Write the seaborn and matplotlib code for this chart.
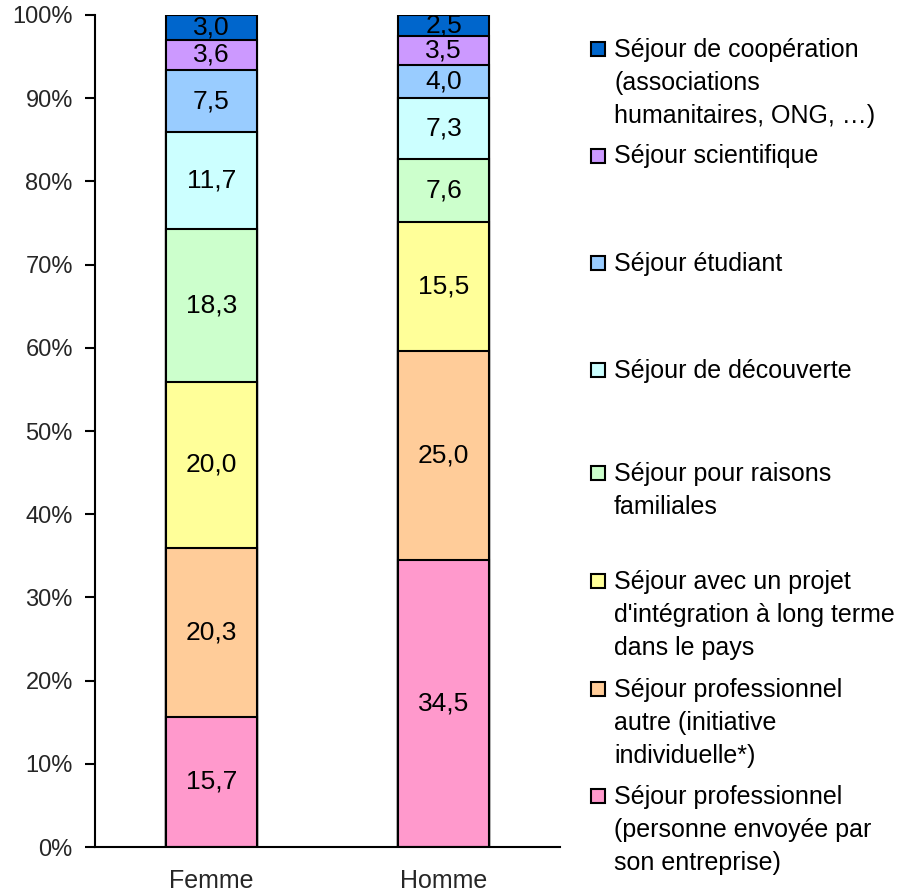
import matplotlib
matplotlib.use("Agg")
import matplotlib.pyplot as plt
from matplotlib.patches import Rectangle
import seaborn as sns
import pandas as pd
import numpy as np

# ---- data ----
groups = ["Femme", "Homme"]
# bottom -> top order
categories = [
    "Séjour professionnel\n(personne envoyée par\nson entreprise)",
    "Séjour professionnel\nautre (initiative\nindividuelle*)",
    "Séjour avec un projet\nd'intégration à long terme\ndans le pays",
    "Séjour pour raisons\nfamiliales",
    "Séjour de découverte",
    "Séjour étudiant",
    "Séjour scientifique",
    "Séjour de coopération\n(associations\nhumanitaires, ONG, …)",
]
femme = [15.7, 20.3, 20.0, 18.3, 11.7, 7.5, 3.6, 3.0]
homme = [34.5, 25.0, 15.5, 7.6, 7.3, 4.0, 3.5, 2.5]
colors = ["#FF99CC", "#FFCC99", "#FFFF99", "#CCFFCC", "#CCFFFF", "#99CCFF", "#CC99FF", "#0066CC"]
yticks = [0, 10, 20, 30, 40, 50, 60, 70, 80, 90, 100]
ytick_labels = [f"{v}%" for v in yticks]

sns.set_theme(style="white")
plt.rcParams["font.family"] = ["Liberation Sans", "DejaVu Sans"]
FS_TICK = 17
FS_X = 18
FS_BAR = 19
FS_LEG = 18

fig = plt.figure(figsize=(9.06, 8.96), dpi=100)
ax = fig.add_axes([95 / 906, 49 / 896, 465 / 906, 832 / 896])

vals = np.array([femme, homme], dtype=float)  # shape (2, 8)
pct = vals / vals.sum(axis=1, keepdims=True) * 100
cum = np.cumsum(pct, axis=1)

# draw from top cumulative downward so smaller stacks overlay
for i in range(len(categories) - 1, -1, -1):
    df = pd.DataFrame({"groupe": groups, "cum": cum[:, i]})
    sns.barplot(data=df, x="groupe", y="cum", color=colors[i], saturation=1,
                width=0.39, edgecolor="black", linewidth=1.5, ax=ax, errorbar=None)

# value labels
for g in range(len(groups)):
    for i in range(len(categories)):
        mid = cum[g, i] - pct[g, i] / 2
        ax.text(g, mid, f"{vals[g, i]:.1f}".replace(".", ","), ha="center", va="center",
                fontsize=FS_BAR, color="black")

ax.set_xlim(-0.5, 1.5)
ax.set_ylim(0, 100)
ax.set_yticks(yticks)
ax.set_yticklabels(ytick_labels, fontsize=FS_TICK)
ax.set_xticks([0, 1])
ax.set_xticklabels(groups, fontsize=FS_X)
ax.set_xticks([-0.5, 0.5, 1.5], minor=True)
ax.tick_params(axis="x", which="major", length=0, pad=16)
ax.tick_params(axis="x", which="minor", length=8, width=1.5, direction="out", color="black")
ax.tick_params(axis="y", which="major", length=7, width=1.5, direction="out", color="black", pad=9, left=True)
ax.set_xlabel("")
ax.set_ylabel("")
for s in ["top", "right"]:
    ax.spines[s].set_visible(False)
for s in ["left", "bottom"]:
    ax.spines[s].set_color("black")
    ax.spines[s].set_linewidth(1.5)

# legend (Excel style, top to bottom)
W, H = 906, 896
legend_first_centers = [48, 155, 262, 369, 472, 580, 688, 795]
for k, i in enumerate(range(len(categories) - 1, -1, -1)):
    yc = legend_first_centers[k]
    fig.add_artist(Rectangle((591 / W, 1 - (yc + 8) / H), 14 / W, 14 / H,
                             transform=fig.transFigure, facecolor=colors[i],
                             edgecolor="black", linewidth=1.5))
    fig.text(614 / W, 1 - (yc - 10.5) / H, categories[i], ha="left", va="top",
             fontsize=FS_LEG, linespacing=1.49, color="black")

fig.savefig("out.png", dpi=100)
